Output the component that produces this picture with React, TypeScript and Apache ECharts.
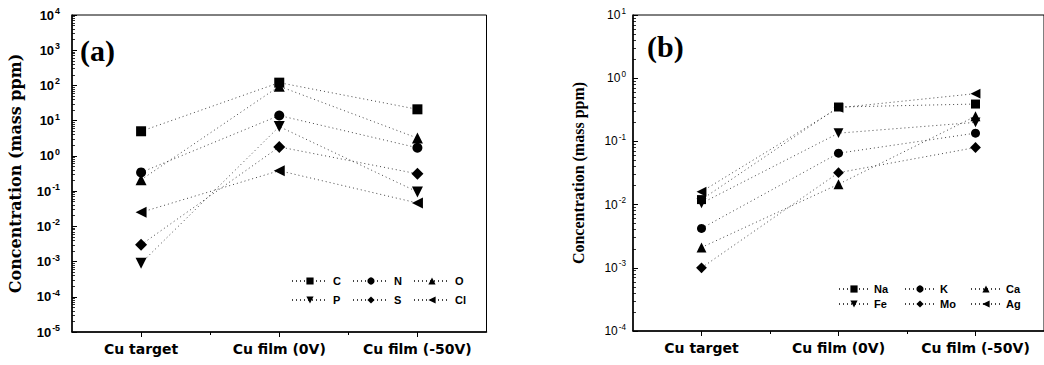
import React, { useEffect, useRef } from "react";
import * as echarts from "echarts";

const categories = ["Cu target", "Cu film (0V)", "Cu film (-50V)"];

// Panel (a) series
const namesA = ["C", "N", "O", "P", "S", "Cl"];
const valC = [5, 120, 21];
const valN = [0.34, 14, 1.7];
const valO = [0.21, 95, 3.2];
const valP = [0.0009, 6.8, 0.095];
const valS = [0.003, 1.8, 0.31];
const valCl = [0.025, 0.38, 0.046];

// Panel (b) series
const namesB = ["Na", "K", "Ca", "Fe", "Mo", "Ag"];
const valNa = [0.012, 0.35, 0.39];
const valK = [0.0042, 0.065, 0.135];
const valCa = [0.0021, 0.021, 0.25];
const valFe = [0.0105, 0.135, 0.2];
const valMo = [0.001, 0.032, 0.08];
const valAg = [0.016, 0.34, 0.57];

const decadesA = [-5, 4];
const decadesB = [-4, 1];

const SANS = "'Liberation Sans', Arial, sans-serif";
const WIDE_SANS = "'DejaVu Sans', sans-serif";
const SERIF = "'Liberation Serif', 'Times New Roman', serif";

const symbols = [
  { symbol: "rect", rotate: 0, size: 10 },
  { symbol: "circle", rotate: 0, size: 10 },
  { symbol: "triangle", rotate: 0, size: 11 },
  { symbol: "triangle", rotate: 180, size: 11 },
  { symbol: "diamond", rotate: 0, size: 12 },
  { symbol: "triangle", rotate: 90, size: 11 },
];

function minorTickPositions(lo: number, hi: number) {
  const out: number[] = [];
  for (let n = lo; n < hi; n++) {
    for (let k = 2; k <= 9; k++) out.push(n + Math.log10(k));
  }
  return out;
}

function makeSeries(names: string[], vals: number[][], size: number) {
  return names.map((name, i) => ({
    type: "line",
    name,
    xAxisIndex: 0,
    yAxisIndex: 0,
    data: vals[i].map((v, j) => [j + 1, v]),
    symbol: symbols[i].symbol,
    symbolRotate: symbols[i].rotate,
    symbolSize: symbols[i].size * size,
    itemStyle: { color: "#000" },
    lineStyle: { color: "#444", width: 1, type: [1, 3] },
    z: 3,
  }));
}

type PanelProps = {
  left: number;
  width: number;
  gridLeft: number;
  gridRight: number;
  gridBottom: number;
  dec: number[];
  names: string[];
  vals: number[][];
  boldTicks: boolean;
  tickFont: number;
  tickMargin: number;
  titleFont: string;
  titleGap: number;
  tag: string;
  tagX: number;
  tagY: number;
  legendLeft: number;
  legendTops: number[];
  legendTextW: number;
  legendGap: number;
  legendIconW: number;
  symScale: number;
};

function Panel(p: PanelProps) {
  const ref = useRef<HTMLDivElement>(null);
  useEffect(() => {
    if (!ref.current) return;
    const chart = echarts.init(ref.current, undefined, { renderer: "svg" });
    const fs = p.tickFont;
    const weight = p.boldTicks ? "bold" : "normal";
    const legend = (data: string[], top: number) => ({
      data,
      left: p.legendLeft,
      top,
      orient: "horizontal",
      itemWidth: p.legendIconW,
      itemHeight: 9,
      itemGap: p.legendGap,
      padding: 0,
      textStyle: { fontFamily: SANS, fontWeight: "bold", fontSize: 11, color: "#000", width: p.legendTextW, lineHeight: 12 },
    });
    chart.setOption({
      animation: false,
      backgroundColor: "#fff",
      grid: [{
        left: p.gridLeft, right: p.gridRight, top: 15, bottom: p.gridBottom,
        outerBoundsMode: "none", show: true, borderColor: "#000", borderWidth: 1, backgroundColor: "transparent",
      }],
      xAxis: [
        {
          type: "value", gridIndex: 0, min: 0.5, max: 3.5, position: "bottom",
          splitLine: { show: false },
          axisLine: { show: true, onZero: false, lineStyle: { color: "#000", width: 1.5 } },
          axisTick: { show: true, customValues: [1, 2, 3], length: 5, lineStyle: { color: "#000", width: 1 } },
          axisLabel: {
            customValues: [1, 2, 3], margin: 10,
            formatter: (v: number) => categories[Math.round(v) - 1] ?? "",
            fontFamily: WIDE_SANS, fontWeight: "bold", fontSize: 14, color: "#000",
          },
        },
        {
          type: "value", gridIndex: 0, min: 0.5, max: 3.5, position: "bottom",
          splitLine: { show: false }, axisLine: { show: false, onZero: false },
          axisTick: { show: true, customValues: [1.5, 2.5], length: 3, lineStyle: { color: "#000", width: 1 } },
          axisLabel: { show: false },
        },
      ],
      yAxis: [
        {
          type: "log", logBase: 10, gridIndex: 0,
          min: Math.pow(10, p.dec[0]), max: Math.pow(10, p.dec[1]), interval: 1, position: "left",
          splitLine: { show: false },
          axisLine: { show: true, onZero: false, lineStyle: { color: "#000", width: 1.5 } },
          axisTick: { show: true, inside: true, length: 5, lineStyle: { color: "#000", width: 1 } },
          name: "Concentration (mass ppm)",
          nameLocation: "middle",
          nameRotate: 90,
          nameGap: p.titleGap,
          nameTextStyle: { fontFamily: p.titleFont, fontWeight: "bold", fontSize: 16, color: "#000" },
          axisLabel: {
            margin: p.tickMargin,
            formatter: (v: number) => `{b|10}{s|${Math.round(Math.log10(v))}}`,
            rich: {
              b: { fontSize: fs, fontWeight: weight, fontFamily: SANS, color: "#000" },
              s: { fontSize: fs * 0.68, fontWeight: weight, fontFamily: SANS, color: "#000", padding: [0, 0, 8, 1] },
            },
          },
        },
        {
          type: "value", gridIndex: 0, min: p.dec[0], max: p.dec[1], position: "left",
          splitLine: { show: false },
          axisLine: { show: false, onZero: false },
          axisTick: { show: true, inside: true, length: 3, customValues: minorTickPositions(p.dec[0], p.dec[1]), lineStyle: { color: "#000", width: 0.8 } },
          axisLabel: { show: false },
        },
      ],
      legend: [legend(p.names.slice(0, 3), p.legendTops[0]), legend(p.names.slice(3), p.legendTops[1])],
      graphic: [
        { type: "text", x: p.tagX, y: p.tagY, style: { text: p.tag, fontFamily: SERIF, fontWeight: "bold", fontSize: 30, fill: "#000" } },
      ],
      series: makeSeries(p.names, p.vals, p.symScale),
    });
    return () => chart.dispose();
  }, []);
  return <div ref={ref} style={{ position: "fixed", left: p.left, top: 0, width: p.width, height: 365 }} />;
}

export default function App() {
  return (
    <div>
      <Panel
        left={0} width={522} gridLeft={72} gridRight={522 - 486.5} gridBottom={365 - 332}
        dec={decadesA} names={namesA} vals={[valC, valN, valO, valP, valS, valCl]}
        boldTicks={true} tickFont={13} tickMargin={12}
        titleFont="'DejaVu Serif', serif" titleGap={49}
        tag="(a)" tagX={80} tagY={35}
        legendLeft={291} legendTops={[275, 294]} legendTextW={14} legendGap={5} legendIconW={36}
        symScale={1}
      />
      <Panel
        left={522} width={522} gridLeft={111} gridRight={0} gridBottom={365 - 331}
        dec={decadesB} names={namesB} vals={[valNa, valK, valCa, valFe, valMo, valAg]}
        boldTicks={false} tickFont={12} tickMargin={7}
        titleFont={SERIF} titleGap={47}
        tag="(b)" tagX={125} tagY={31}
        legendLeft={316} legendTops={[283, 298]} legendTextW={22} legendGap={8} legendIconW={30}
        symScale={0.9}
      />
    </div>
  );
}
